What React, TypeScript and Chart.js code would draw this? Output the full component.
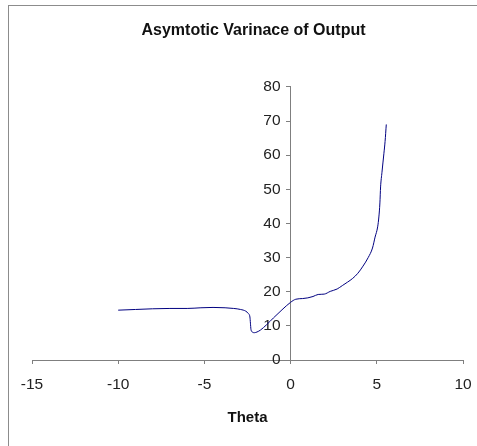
import React, { useEffect, useRef } from "react";
import { Chart, registerables } from "chart.js";

Chart.register(...registerables);

const chartTitle = "Asymtotic Varinace of Output";
const xAxisTitle = "Theta";

const thetaValues = [
  -10, -9, -8, -7, -6, -5.2, -4.5, -3.8, -3.3, -2.9, -2.6, -2.45, -2.36, -2.33, -2.3, -2.22,
  -2.1, -1.95, -1.74, -1.4, -1.0, -0.5, 0, 0.3, 0.7, 1.0, 1.3, 1.6, 1.95, 2.3, 2.7, 3.0,
  3.3, 3.6, 3.9, 4.2, 4.5, 4.75, 4.9, 5.05, 5.12, 5.18, 5.22, 5.3, 5.41, 5.48, 5.55,
];
const varianceValues = [
  14.6, 14.8, 15.0, 15.1, 15.1, 15.3, 15.4, 15.3, 15.1, 14.8, 14.3, 13.6, 12.6, 10.8, 9.0, 8.2,
  8.0, 8.2, 8.8, 10.3, 12.3, 14.7, 16.9, 17.8, 18.0, 18.2, 18.6, 19.2, 19.3, 20.1, 20.8, 21.8,
  22.8, 23.9, 25.4, 27.5, 30.0, 32.8, 36.0, 39.0, 41.9, 46.0, 50.7, 55.0, 60.4, 64.0, 69.0,
];

const xTickMin = -15;
const xTickMax = 10;
const xTickStep = 5;
const yTickMin = 0;
const yTickMax = 80;
const yTickStep = 10;
const yAxisCrossing = 0;
const yLabelColumn = -0.58;

const FONT = "'Liberation Sans', Arial, sans-serif";
const AXIS_COLOR = "#7f7f7f";
const TEXT_COLOR = "#222222";

export default function App() {
  const canvasRef = useRef<HTMLCanvasElement | null>(null);

  useEffect(() => {
    if (!canvasRef.current) return;
    const points = thetaValues.map((x, i) => ({ x, y: varianceValues[i] }));
    const chart = new Chart(canvasRef.current, {
      type: "scatter",
      data: {
        datasets: [
          {
            data: points,
            showLine: true,
            borderColor: "#000080",
            borderWidth: 1,
            pointRadius: 0,
            cubicInterpolationMode: "monotone",
            fill: false,
            xAxisID: "x",
            yAxisID: "y",
          },
        ],
      },
      options: {
        animation: false,
        responsive: false,
        font: { family: FONT },
        layout: { padding: { left: 32, right: 2, top: 0, bottom: 0 } },
        plugins: {
          legend: { display: false },
          tooltip: { enabled: false },
          title: {
            display: true,
            text: chartTitle,
            color: "#111111",
            font: { family: FONT, size: 16, weight: "bold" },
            padding: { top: 20.7, bottom: 47 },
          },
        },
        scales: {
          x: {
            type: "linear",
            position: "bottom",
            min: xTickMin,
            max: xTickMax,
            ticks: {
              stepSize: xTickStep,
              color: TEXT_COLOR,
              font: { family: FONT, size: 15.5 },
              padding: 11,
              maxRotation: 0,
            },
            grid: {
              drawOnChartArea: false,
              drawTicks: true,
              tickLength: 4,
              color: AXIS_COLOR,
            },
            border: { display: true, color: AXIS_COLOR, width: 1 },
            title: {
              display: true,
              text: xAxisTitle,
              color: "#111111",
              font: { family: FONT, size: 15, weight: "bold" },
              padding: { top: 4.4, bottom: 19 },
            },
            afterFit: (scale: any) => {
              scale.paddingLeft = 0;
              scale.paddingRight = 0;
            },
          },
          y: {
            type: "linear",
            position: { x: yLabelColumn },
            min: yTickMin,
            max: yTickMax,
            ticks: {
              stepSize: yTickStep,
              color: TEXT_COLOR,
              font: { family: FONT, size: 15.5 },
            },
            grid: { display: false },
            border: { display: false },
          },
          yAxisLine: {
            type: "linear",
            position: { x: yAxisCrossing },
            min: yTickMin,
            max: yTickMax,
            ticks: { stepSize: yTickStep, display: false },
            grid: {
              drawOnChartArea: false,
              drawTicks: true,
              tickLength: 4,
              color: AXIS_COLOR,
            },
            border: { display: true, color: AXIS_COLOR, width: 1 },
          },
          yRightSpace: {
            type: "linear",
            position: "right",
            display: true,
            min: yTickMin,
            max: yTickMax,
            ticks: { display: false },
            grid: { display: false },
            border: { display: false },
            afterFit: (scale: any) => {
              scale.width = 12;
              scale.paddingTop = 0;
              scale.paddingBottom = 0;
            },
          },
        },
      } as any,
    });
    return () => chart.destroy();
  }, []);

  return (
    <div>
      <canvas
        ref={canvasRef}
        width={477}
        height={446}
        style={{ position: "absolute", left: 0, top: 0, width: 477, height: 446 }}
      />
      <div
        style={{
          position: "absolute",
          left: 8,
          top: 5,
          width: 469,
          height: 441,
          borderLeft: "1px solid #8c8c8c",
          borderTop: "1px solid #8c8c8c",
          boxSizing: "border-box",
          pointerEvents: "none",
        }}
      />
    </div>
  );
}
